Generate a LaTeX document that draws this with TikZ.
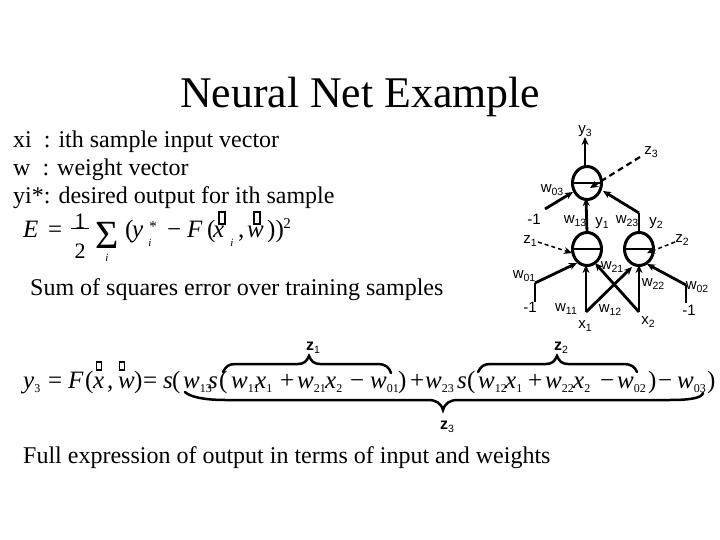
\documentclass[tikz,border=0pt]{standalone}
\usepackage[no-math]{fontspec}
\setmainfont{Liberation Serif}
\newfontfamily\lsans{Liberation Sans}
\usetikzlibrary{arrows.meta,shapes.geometric}
\newcommand{\iv}[2]{\textit{#1}\raisebox{-4pt}{\fontsize{12}{12}\selectfont #2}}
\newcommand{\lab}[2]{#1\raisebox{-3.5pt}{\fontsize{10.5}{10.5}\selectfont #2}}
\begin{document}
\begin{tikzpicture}[x=1pt,y=-1pt,
  neuron/.style={draw,line width=3pt,ellipse,inner sep=0pt,outer sep=0pt,minimum width=29pt,minimum height=33pt},
  wire/.style={line width=2.8pt},
  arrowwire/.style={wire,-{Stealth[length=8pt,width=7pt]}},
  dashwire/.style={line width=2.2pt,dash pattern=on 6pt off 4pt,-{Stealth[length=8pt,width=7pt]}},
  thindash/.style={line width=1.5pt,dash pattern=on 4pt off 3pt,-{Stealth[length=8pt,width=7pt]}},
  brace/.style={line width=2.5pt,line cap=round},
  lbl/.style={font=\lsans\fontsize{15}{15}\selectfont,inner sep=0pt},
  blbl/.style={font=\lsans\bfseries\fontsize{16}{16}\selectfont,inner sep=0pt},
  body/.style={font=\fontsize{24}{24}\selectfont,anchor=base west,inner sep=0pt},
  eq/.style={font=\fontsize{25}{25}\selectfont,anchor=base west,inner sep=0pt},
  small/.style={font=\fontsize{11}{11}\selectfont\itshape,inner sep=0pt},
  tofu/.style={draw,line width=1.2pt,minimum width=6pt,minimum height=12pt,inner sep=0pt},
  tofub/.style={draw,line width=1.2pt,minimum width=5pt,minimum height=8pt,inner sep=0pt}]
\useasboundingbox (0,0) rectangle (720,540);
\fill[white] (0,0) rectangle (720,540);

\node[font=\fontsize{43.8}{44}\selectfont,anchor=base west,inner sep=0pt] (title) at (180,108) {Neural Net Example};
\node[body] (l1) at (13,148) {xi\ \ : ith sample input vector};
\node[body] (l2) at (13,176) {w\ \ : weight vector};
\node[body] (l3) at (13,204) {yi*: desired output for ith sample};
\node[body] (l4) at (30,295) {Sum of squares error over training samples};
\node[body] (l5) at (23,463) {Full expression of output in terms of input and weights};

% error equation
\foreach \px/\txt [count=\i] in {23/\textit{E},48/=,125/(,132/\textit{y},167/−,187/\textit{F},207/(,213/\textit{x},238/{,},247/\textit{w},267/))}
  \node[eq] (e\i) at (\px,237) {\txt};
\node[font=\fontsize{22}{22}\selectfont,inner sep=0pt] (half1) at (80,221) {1};
\node[font=\fontsize{22}{22}\selectfont,inner sep=0pt] (half2) at (80,251) {2};
\draw[line width=1pt] (half1.south -| 71,0) -- (half1.south -| 89,0);
\node[font=\fontsize{40}{40}\selectfont,inner sep=0pt] (sum) at (107,235) {Σ};
\node[small] (sumi) at (107,258) {i};
\node[small] (ei) at (150,243) {i};
\node[font=\fontsize{15}{15}\selectfont,inner sep=0pt] (est) at (153,227) {*};
\node[small] (ei2) at (232,243) {i};
\node[font=\fontsize{15}{15}\selectfont,inner sep=0pt] (e2) at (287,224) {2};
\node[tofu] (t1) at (222,218) {};
\node[tofu] (t2) at (257,218) {};

% full equation
\foreach \px/\txt [count=\i] in {23/\iv{y}{3},48/=,68/\textit{F},85/(,93/\textit{x},107/{,},118/\textit{w},134/),143/=,163/\textit{s},172/(,183/\iv{w}{13},208/\textit{s},219/(,231/\iv{w}{11},255/\iv{x}{1},280/+,297/\iv{w}{21},325/\iv{x}{2},350/−,370/\iv{w}{01},398/),410/+,425/\iv{w}{23},457/\textit{s},467/(,478/\iv{w}{12},505/\iv{x}{1},528/+,545/\iv{w}{22},573/\iv{x}{2},600/−,617/\iv{w}{02},648/),658/−,677/\iv{w}{03},707/)}
  \node[eq] (f\i) at (\px,388) {\txt};
\node[tofub] (t3) at (99,366) {};
\node[tofub] (t4) at (122,366) {};

% braces
\coordinate (b1a) at (223,372); \coordinate (b1b) at (391,373); \coordinate (b1t) at (309,356);
\coordinate (b2a) at (478,372); \coordinate (b2b) at (637,372); \coordinate (b2t) at (557,356);
\coordinate (b3a) at (185,392); \coordinate (b3b) at (703,393); \coordinate (b3t) at (443,410);
\draw[brace] (b1a) .. controls (226,366) and (229,364) .. (236,364) -- (298,364) .. controls (304,364) and (307,361) .. (b1t) .. controls (311,361) and (314,364) .. (320,364) -- (378,364) .. controls (385,364) and (389,367) .. (b1b);
\draw[brace] (b2a) .. controls (481,366) and (484,364) .. (491,364) -- (546,364) .. controls (552,364) and (555,361) .. (b2t) .. controls (559,361) and (562,364) .. (568,364) -- (624,364) .. controls (631,364) and (635,367) .. (b2b);
\draw[brace] (b3a) .. controls (190,397) and (205,400) .. (225,400) -- (428,400) .. controls (436,400) and (441,403) .. (b3t) .. controls (445,403) and (450,400) .. (458,400) -- (670,400) .. controls (690,400) and (702,398) .. (b3b);
\node[blbl] (bz1) at (313,348) {\lab{z}{\mdseries 1}};
\node[blbl] (bz2) at (561,348) {\lab{z}{\mdseries 2}};
\node[blbl] (bz3) at (447,427) {\lab{z}{\mdseries 3}};

% neurons
\node[neuron] (n3) at (587,183) {};
\node[neuron] (n1) at (587,249) {};
\node[neuron] (n2) at (639,249) {};
\draw[line width=2.8pt] (n3.west) -- (n3.east);
\draw[line width=2.8pt] (n1.west) -- (n1.east);
\draw[line width=2.8pt] (n2.west) -- (n2.east);

% wire ends
\coordinate (y3end) at (585,137);
\coordinate (in3a) at (573,192);
\coordinate (in3b) at (586,198);
\coordinate (in3c) at (603,191);
\coordinate (in3d) at (590,188);
\coordinate (m3) at (545,209);
\coordinate (z3e) at (640,157);
\coordinate (by2) at (639,213);
\coordinate (m1a) at (535,302);
\coordinate (m1b) at (535,283);
\coordinate (m2a) at (686,303);
\coordinate (m2b) at (686,285);
\coordinate (in1a) at (577,263);
\coordinate (in1b) at (586,265);
\coordinate (in1c) at (595,263);
\coordinate (in1d) at (572,253);
\coordinate (in2a) at (632,267);
\coordinate (in2b) at (639,265);
\coordinate (in2c) at (647,264);
\coordinate (in2d) at (647,253);
\coordinate (z1e) at (538,242);
\coordinate (z2e) at (675,242);
\coordinate (x1p) at (586,312);
\coordinate (x2p) at (639,312);

\draw[arrowwire] (n3.north -| y3end) -- (y3end);
\draw[dashwire] (z3e) -- (in3d);
\draw[arrowwire] (m3) -- (in3a);
\draw[arrowwire] (n1.north) -- (in3b);
\draw[wire] (n2.north) -- (by2);
\draw[arrowwire] (by2) -- (in3c);
\draw[wire] (m1a) -- (m1b);
\draw[arrowwire] (m1b) -- (in1a);
\draw[arrowwire] (x1p) -- (in1b);
\draw[arrowwire] (x1p) -- (in2a);
\draw[arrowwire] (x2p) -- (in1c);
\draw[arrowwire] (x2p) -- (in2b);
\draw[wire] (m2a) -- (m2b);
\draw[arrowwire] (m2b) -- (in2c);
\draw[thindash] (z1e) -- (in1d);
\draw[thindash] (z2e) -- (in2d);

% labels
\node[lbl] (ly3) at (585,131) {\lab{y}{3}};
\node[lbl] (lz3) at (651,152) {\lab{z}{3}};
\node[lbl] (lw03) at (552,190) {\lab{w}{03}};
\node[lbl] (lm1a) at (534,219) {-1};
\node[lbl] (lw13) at (575,221) {\lab{w}{13}};
\node[lbl] (ly1) at (602,223) {\lab{y}{1}};
\node[lbl] (lw23) at (627,221) {\lab{w}{23}};
\node[lbl] (ly2) at (656,223) {\lab{y}{2}};
\node[lbl] (lz1) at (530,241) {\lab{z}{1}};
\node[lbl] (lz2) at (682,240) {\lab{z}{2}};
\node[lbl] (lw21) at (612,267) {\lab{w}{21}};
\node[lbl] (lw01) at (524,276) {\lab{w}{01}};
\node[lbl] (lw22) at (653,284) {\lab{w}{22}};
\node[lbl] (lw02) at (697,287) {\lab{w}{02}};
\node[lbl] (lm1b) at (530,307) {-1};
\node[lbl] (lm1c) at (689,310) {-1};
\node[lbl] (lw11) at (566,309) {\lab{w}{11}};
\node[lbl] (lw12) at (610,310) {\lab{w}{12}};
\node[lbl] (lx1) at (585,326) {\lab{x}{1}};
\node[lbl] (lx2) at (648,322) {\lab{x}{2}};
\end{tikzpicture}
\end{document}
